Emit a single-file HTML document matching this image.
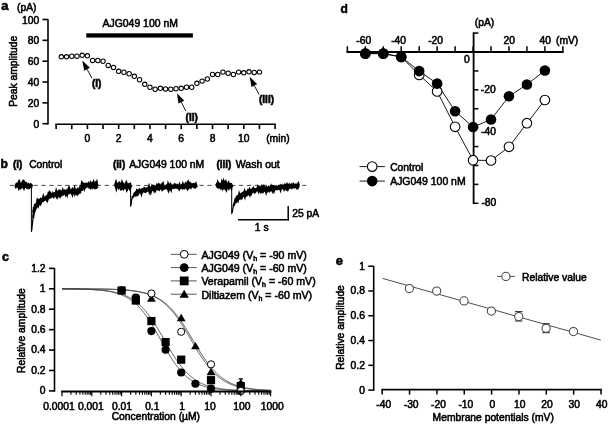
<!DOCTYPE html>
<html><head><meta charset="utf-8"><style>
html,body{margin:0;padding:0;background:#fff;width:608px;height:424px;overflow:hidden}
svg{display:block;will-change:transform}
text{font-family:"Liberation Sans", sans-serif;fill:#000;stroke:#000;stroke-width:0.55px}
</style></head><body>
<svg width="608" height="424" viewBox="0 0 608 424">
<text x="1.30" y="10.40" font-size="13" text-anchor="start" font-weight="bold" >a</text>
<text x="17.00" y="10.50" font-size="10.3" text-anchor="start" font-weight="normal" >(pA)</text>
<line x1="48.00" y1="19.30" x2="48.00" y2="124.50" stroke="#000" stroke-width="1.6" />
<line x1="42.50" y1="123.70" x2="48.00" y2="123.70" stroke="#000" stroke-width="1.6" />
<text x="39.20" y="127.80" font-size="10.3" text-anchor="end" font-weight="normal" >0</text>
<line x1="42.50" y1="102.86" x2="48.00" y2="102.86" stroke="#000" stroke-width="1.6" />
<text x="39.20" y="106.96" font-size="10.3" text-anchor="end" font-weight="normal" >20</text>
<line x1="42.50" y1="82.02" x2="48.00" y2="82.02" stroke="#000" stroke-width="1.6" />
<text x="39.20" y="86.12" font-size="10.3" text-anchor="end" font-weight="normal" >40</text>
<line x1="42.50" y1="61.18" x2="48.00" y2="61.18" stroke="#000" stroke-width="1.6" />
<text x="39.20" y="65.28" font-size="10.3" text-anchor="end" font-weight="normal" >60</text>
<line x1="42.50" y1="40.34" x2="48.00" y2="40.34" stroke="#000" stroke-width="1.6" />
<text x="39.20" y="44.44" font-size="10.3" text-anchor="end" font-weight="normal" >80</text>
<line x1="42.50" y1="19.50" x2="48.00" y2="19.50" stroke="#000" stroke-width="1.6" />
<text x="39.20" y="23.60" font-size="10.3" text-anchor="end" font-weight="normal" >100</text>
<line x1="55.32" y1="124.30" x2="275.88" y2="124.30" stroke="#000" stroke-width="1.6" />
<line x1="56.12" y1="124.30" x2="56.12" y2="129.10" stroke="#000" stroke-width="1.6" />
<line x1="71.76" y1="124.30" x2="71.76" y2="129.10" stroke="#000" stroke-width="1.6" />
<line x1="87.40" y1="124.30" x2="87.40" y2="129.10" stroke="#000" stroke-width="1.6" />
<line x1="103.04" y1="124.30" x2="103.04" y2="129.10" stroke="#000" stroke-width="1.6" />
<line x1="118.68" y1="124.30" x2="118.68" y2="129.10" stroke="#000" stroke-width="1.6" />
<line x1="134.32" y1="124.30" x2="134.32" y2="129.10" stroke="#000" stroke-width="1.6" />
<line x1="149.96" y1="124.30" x2="149.96" y2="129.10" stroke="#000" stroke-width="1.6" />
<line x1="165.60" y1="124.30" x2="165.60" y2="129.10" stroke="#000" stroke-width="1.6" />
<line x1="181.24" y1="124.30" x2="181.24" y2="129.10" stroke="#000" stroke-width="1.6" />
<line x1="196.88" y1="124.30" x2="196.88" y2="129.10" stroke="#000" stroke-width="1.6" />
<line x1="212.52" y1="124.30" x2="212.52" y2="129.10" stroke="#000" stroke-width="1.6" />
<line x1="228.16" y1="124.30" x2="228.16" y2="129.10" stroke="#000" stroke-width="1.6" />
<line x1="243.80" y1="124.30" x2="243.80" y2="129.10" stroke="#000" stroke-width="1.6" />
<line x1="259.44" y1="124.30" x2="259.44" y2="129.10" stroke="#000" stroke-width="1.6" />
<line x1="275.08" y1="124.30" x2="275.08" y2="129.10" stroke="#000" stroke-width="1.6" />
<text x="87.40" y="142.40" font-size="10.3" text-anchor="middle" font-weight="normal" >0</text>
<text x="118.68" y="142.40" font-size="10.3" text-anchor="middle" font-weight="normal" >2</text>
<text x="149.96" y="142.40" font-size="10.3" text-anchor="middle" font-weight="normal" >4</text>
<text x="181.24" y="142.40" font-size="10.3" text-anchor="middle" font-weight="normal" >6</text>
<text x="212.52" y="142.40" font-size="10.3" text-anchor="middle" font-weight="normal" >8</text>
<text x="243.80" y="142.40" font-size="10.3" text-anchor="middle" font-weight="normal" >10</text>
<text x="266.20" y="142.40" font-size="10.3" text-anchor="start" font-weight="normal" >(min)</text>
<text x="17.20" y="71.30" font-size="10.3" text-anchor="middle" font-weight="normal" transform="rotate(-90 17.2 71.3)">Peak amplitude</text>
<rect x="86.3" y="33.3" width="106.6" height="4.3" fill="#000"/>
<text x="102.50" y="27.30" font-size="10.45" text-anchor="start" font-weight="normal" >AJG049 100 nM</text>
<circle cx="61.33" cy="56.80" r="2.2" fill="#fff" stroke="#000" stroke-width="1.05"/>
<circle cx="66.55" cy="56.80" r="2.2" fill="#fff" stroke="#000" stroke-width="1.05"/>
<circle cx="71.76" cy="56.20" r="2.2" fill="#fff" stroke="#000" stroke-width="1.05"/>
<circle cx="76.97" cy="56.20" r="2.2" fill="#fff" stroke="#000" stroke-width="1.05"/>
<circle cx="82.19" cy="55.30" r="2.2" fill="#fff" stroke="#000" stroke-width="1.05"/>
<circle cx="87.40" cy="55.80" r="2.2" fill="#fff" stroke="#000" stroke-width="1.05"/>
<circle cx="92.61" cy="60.40" r="2.2" fill="#fff" stroke="#000" stroke-width="1.05"/>
<circle cx="97.83" cy="60.50" r="2.2" fill="#fff" stroke="#000" stroke-width="1.05"/>
<circle cx="103.04" cy="61.20" r="2.2" fill="#fff" stroke="#000" stroke-width="1.05"/>
<circle cx="108.25" cy="65.40" r="2.2" fill="#fff" stroke="#000" stroke-width="1.05"/>
<circle cx="113.47" cy="67.40" r="2.2" fill="#fff" stroke="#000" stroke-width="1.05"/>
<circle cx="118.68" cy="71.30" r="2.2" fill="#fff" stroke="#000" stroke-width="1.05"/>
<circle cx="123.89" cy="72.20" r="2.2" fill="#fff" stroke="#000" stroke-width="1.05"/>
<circle cx="129.11" cy="73.70" r="2.2" fill="#fff" stroke="#000" stroke-width="1.05"/>
<circle cx="134.32" cy="76.30" r="2.2" fill="#fff" stroke="#000" stroke-width="1.05"/>
<circle cx="139.53" cy="79.70" r="2.2" fill="#fff" stroke="#000" stroke-width="1.05"/>
<circle cx="144.75" cy="84.30" r="2.2" fill="#fff" stroke="#000" stroke-width="1.05"/>
<circle cx="149.96" cy="87.20" r="2.2" fill="#fff" stroke="#000" stroke-width="1.05"/>
<circle cx="155.17" cy="89.20" r="2.2" fill="#fff" stroke="#000" stroke-width="1.05"/>
<circle cx="160.39" cy="88.30" r="2.2" fill="#fff" stroke="#000" stroke-width="1.05"/>
<circle cx="165.60" cy="88.90" r="2.2" fill="#fff" stroke="#000" stroke-width="1.05"/>
<circle cx="170.81" cy="89.20" r="2.2" fill="#fff" stroke="#000" stroke-width="1.05"/>
<circle cx="176.03" cy="88.70" r="2.2" fill="#fff" stroke="#000" stroke-width="1.05"/>
<circle cx="181.24" cy="88.30" r="2.2" fill="#fff" stroke="#000" stroke-width="1.05"/>
<circle cx="186.45" cy="87.20" r="2.2" fill="#fff" stroke="#000" stroke-width="1.05"/>
<circle cx="191.67" cy="87.20" r="2.2" fill="#fff" stroke="#000" stroke-width="1.05"/>
<circle cx="196.88" cy="83.30" r="2.2" fill="#fff" stroke="#000" stroke-width="1.05"/>
<circle cx="202.09" cy="81.10" r="2.2" fill="#fff" stroke="#000" stroke-width="1.05"/>
<circle cx="207.31" cy="79.00" r="2.2" fill="#fff" stroke="#000" stroke-width="1.05"/>
<circle cx="212.52" cy="74.50" r="2.2" fill="#fff" stroke="#000" stroke-width="1.05"/>
<circle cx="217.73" cy="74.50" r="2.2" fill="#fff" stroke="#000" stroke-width="1.05"/>
<circle cx="222.95" cy="72.10" r="2.2" fill="#fff" stroke="#000" stroke-width="1.05"/>
<circle cx="228.16" cy="73.20" r="2.2" fill="#fff" stroke="#000" stroke-width="1.05"/>
<circle cx="233.37" cy="74.50" r="2.2" fill="#fff" stroke="#000" stroke-width="1.05"/>
<circle cx="238.59" cy="72.10" r="2.2" fill="#fff" stroke="#000" stroke-width="1.05"/>
<circle cx="243.80" cy="72.80" r="2.2" fill="#fff" stroke="#000" stroke-width="1.05"/>
<circle cx="249.01" cy="71.80" r="2.2" fill="#fff" stroke="#000" stroke-width="1.05"/>
<circle cx="254.23" cy="72.40" r="2.2" fill="#fff" stroke="#000" stroke-width="1.05"/>
<circle cx="259.44" cy="72.10" r="2.2" fill="#fff" stroke="#000" stroke-width="1.05"/>
<polygon points="82.30,60.40 84.25,70.72 89.88,67.67" fill="#000"/>
<line x1="87.06" y1="69.19" x2="92.00" y2="78.30" stroke="#000" stroke-width="0.9" />
<polygon points="176.90,93.20 178.51,103.58 184.23,100.71" fill="#000"/>
<line x1="181.37" y1="102.14" x2="185.80" y2="111.00" stroke="#000" stroke-width="0.9" />
<polygon points="249.70,76.70 251.49,87.05 257.17,84.08" fill="#000"/>
<line x1="254.33" y1="85.56" x2="259.10" y2="94.70" stroke="#000" stroke-width="0.9" />
<text x="92.00" y="87.30" font-size="10" text-anchor="start" font-weight="bold" >(I)</text>
<text x="185.60" y="120.80" font-size="10" text-anchor="start" font-weight="bold" >(II)</text>
<text x="259.00" y="103.40" font-size="10" text-anchor="start" font-weight="bold" >(III)</text>
<text x="0.50" y="168.00" font-size="12" text-anchor="start" font-weight="bold" >b</text>
<text x="13.00" y="168.30" font-size="10" text-anchor="start" font-weight="bold" >(i)</text>
<text x="29.20" y="168.30" font-size="10.3" text-anchor="start" font-weight="normal" >Control</text>
<text x="113.00" y="168.30" font-size="10" text-anchor="start" font-weight="bold" >(ii)</text>
<text x="129.20" y="168.30" font-size="10.4" text-anchor="start" font-weight="normal" >AJG049 100 nM</text>
<text x="216.40" y="168.30" font-size="10" text-anchor="start" font-weight="bold" >(iii)</text>
<text x="235.80" y="168.30" font-size="10.5" text-anchor="start" font-weight="normal" >Wash out</text>
<line x1="9.90" y1="185.40" x2="306.50" y2="185.40" stroke="#333" stroke-width="0.9" stroke-dasharray="4.2 3.7"/>
<polyline points="15.80,185.03 16.05,185.58 16.30,185.27 16.55,185.69 16.81,185.73 17.06,184.72 17.31,184.62 17.56,186.11 17.81,185.07 18.06,185.02 18.32,186.39 18.57,185.45 18.82,186.11 19.07,185.46 19.32,185.75 19.57,184.87 19.83,185.74 20.08,186.16 20.33,185.54 20.58,185.93 20.83,185.81 21.08,184.72 21.34,185.96 21.59,185.66 21.84,185.14 22.09,184.66 22.34,186.16 22.59,185.45 22.85,185.89 23.10,186.18 23.35,185.89 23.60,186.26 23.85,185.31 24.10,186.04 24.35,185.40 24.61,186.28 24.86,186.18 25.11,184.78 25.36,184.84 25.61,184.99 25.86,186.34 26.12,185.39 26.37,185.73 26.62,185.14 26.87,185.51 27.12,185.29 27.37,185.23 27.63,185.65 27.88,185.65 28.13,186.23 28.38,185.83 28.63,186.27 28.88,186.14 29.14,186.38 29.39,185.81 29.64,184.89 29.89,186.15 30.14,186.34 30.39,186.23 30.65,185.62 30.90,185.88 31.15,184.98 31.40,186.10" fill="none" stroke="#000" stroke-width="3.6" />
<line x1="31.40" y1="183.50" x2="31.40" y2="232.00" stroke="#000" stroke-width="1.0" />
<polyline points="31.60,231.00 31.71,229.98 31.86,228.59 32.04,226.95 32.24,225.12 32.46,223.23 32.68,221.34 32.89,219.57 33.10,218.00 33.29,216.58 33.45,215.18 33.62,213.83" fill="none" stroke="#000" stroke-width="1.3" />
<polyline points="33.10,218.00 33.29,216.58 33.45,215.18 33.62,213.83 33.79,212.53 33.98,211.28" fill="none" stroke="#000" stroke-width="2.2" />
<polyline points="33.79,212.64 33.98,210.94 34.20,209.41 34.47,209.58 34.80,208.78 35.19,206.44 35.62,206.78 36.09,205.44 36.34,204.70 36.59,204.61 36.86,205.07 37.13,204.93 37.42,203.32 37.70,203.94 37.99,202.74 38.29,203.54 38.59,202.62 38.90,203.21 39.22,203.07 39.54,202.02 39.87,202.52 40.21,201.13 40.56,200.48 40.92,201.04 41.28,199.86 41.64,199.85 42.02,199.93 42.39,200.00 42.65,199.10 42.90,198.76 43.15,199.91 43.41,198.87 43.67,199.74 43.93,199.48 44.18,198.50 44.44,198.49 44.70,198.43 44.96,198.49 45.22,198.27 45.48,198.08 45.74,198.04 46.00,198.43 46.26,197.61 46.52,197.36 46.78,197.71 47.05,196.81 47.31,196.80 47.58,197.77 47.85,196.93 48.12,196.86 48.40,195.89 48.67,196.43 48.95,196.59 49.24,195.58 49.52,196.43 49.81,196.35 50.10,195.33 50.39,196.13 50.70,195.76 51.00,196.00 51.30,195.36 51.62,195.82 51.93,195.76 52.25,194.50 52.58,194.45 52.91,195.33 53.24,195.67 53.49,194.45 53.74,194.70 54.00,194.83 54.25,194.31 54.51,194.30 54.77,194.14 55.03,194.15 55.29,194.43 55.56,193.88 55.82,193.92 56.08,194.47 56.35,193.20 56.61,193.99 56.88,194.18 57.14,193.43 57.41,193.21 57.67,194.07 57.93,193.09 58.20,192.94 58.46,193.26 58.72,193.62 58.98,192.60 59.24,192.88 59.50,192.83 59.76,193.57 60.02,192.88 60.28,193.48 60.53,192.32 60.79,192.53 61.05,192.97 61.31,193.28 61.57,192.53 61.83,192.11 62.09,191.89 62.35,192.49 62.61,191.89 62.87,192.82 63.13,192.82 63.39,191.72 63.65,191.81 63.91,192.61 64.17,192.30 64.43,192.51 64.69,191.73 64.95,191.34 65.21,191.55 65.47,192.31 65.73,191.43 65.99,191.51 66.25,191.58 66.51,191.55 66.77,191.49 67.02,192.28 67.28,191.02 67.54,190.74 67.80,192.21 68.06,192.08 68.32,192.23 68.59,191.32 68.85,192.11 69.12,192.06 69.39,190.91 69.66,191.73 69.92,191.86 70.20,191.57 70.47,191.33 70.74,190.95 71.01,191.02 71.28,190.83 71.55,190.57 71.82,191.39 72.09,190.90 72.35,191.73 72.61,190.50 72.88,191.87 73.14,191.53 73.40,191.89 73.65,191.84 73.90,191.84 74.16,191.32 74.48,190.40 74.80,191.56 75.11,190.63 75.41,190.82 75.70,191.38 76.00,191.14 76.28,190.94 76.56,191.75 76.84,191.20 77.11,190.74 77.38,190.56 77.65,191.51 77.91,190.86 78.17,191.31 78.43,190.59 78.80,190.29 79.16,190.78 79.50,191.18 79.83,190.10 80.12,191.05 80.42,191.21 80.91,190.95 81.30,190.92" fill="none" stroke="#000" stroke-width="3.3" />
<polyline points="81.60,184.61 81.85,185.73 82.10,186.15 82.36,184.69 82.61,185.09 82.86,185.08 83.11,185.55 83.37,185.36 83.62,185.45 83.87,186.00 84.12,184.60 84.38,184.70 84.63,184.83 84.88,184.82 85.13,184.72 85.39,186.35 85.64,186.14 85.89,184.76 86.14,185.50 86.40,185.17 86.65,185.17 86.90,185.23 87.15,185.76 87.40,185.66 87.66,185.25 87.91,184.94 88.16,185.19 88.41,184.82 88.67,185.60 88.92,185.89 89.17,185.28 89.42,184.74 89.68,184.92 89.93,185.27 90.18,185.69 90.43,186.01 90.69,185.28 90.94,186.04 91.19,185.72 91.44,185.38 91.70,185.27 91.95,185.49 92.20,185.87 92.45,185.36 92.70,185.85 92.96,185.43 93.21,185.04 93.46,185.56 93.71,185.85 93.97,184.73 94.22,185.36 94.47,185.37 94.72,186.18 94.98,186.29 95.23,185.27 95.48,186.22 95.73,186.02 95.99,185.07 96.24,185.44 96.49,184.82 96.74,186.06 97.00,185.79 97.25,186.20 97.50,186.03" fill="none" stroke="#000" stroke-width="3.6" />
<line x1="81.60" y1="191.00" x2="81.60" y2="185.50" stroke="#000" stroke-width="2" />
<polyline points="115.20,185.80 115.45,185.92 115.70,185.61 115.96,184.79 116.21,185.66 116.46,184.61 116.71,184.86 116.97,185.99 117.22,184.68 117.47,184.77 117.72,184.78 117.98,186.18 118.23,184.92 118.48,184.64 118.73,186.11 118.99,184.82 119.24,186.12 119.49,185.81 119.74,186.11 120.00,186.31 120.25,185.64 120.50,186.04 120.75,184.67 121.01,185.98 121.26,185.52 121.51,185.89 121.76,184.79 122.02,185.95 122.27,186.28 122.52,184.71 122.77,185.18 123.03,185.62 123.28,186.09 123.53,185.04 123.78,184.92 124.04,185.05 124.29,185.71 124.54,185.96 124.79,185.31 125.05,185.26 125.30,185.31 125.55,185.23 125.80,185.35 126.06,184.75 126.31,185.50 126.56,186.35 126.81,185.34 127.07,185.95 127.32,184.89 127.57,185.84 127.82,185.96 128.08,185.81 128.33,185.53 128.58,185.47 128.83,185.76 129.09,186.22 129.34,184.87 129.59,184.77 129.84,185.95 130.10,186.25 130.35,185.53 130.60,185.40" fill="none" stroke="#000" stroke-width="3.6" />
<line x1="130.60" y1="183.50" x2="130.60" y2="206.80" stroke="#000" stroke-width="1.0" />
<polyline points="131.00,205.50 131.06,204.91 131.11,204.11 131.17,203.15 131.26,202.10 131.38,201.00 131.57,199.92 131.84,198.90 132.20,198.00 132.65,197.19 133.18,196.41 133.77,195.65" fill="none" stroke="#000" stroke-width="1.3" />
<polyline points="132.20,198.00 132.65,197.19 133.18,196.41 133.77,195.65 134.43,194.92 135.16,194.23" fill="none" stroke="#000" stroke-width="2.2" />
<polyline points="134.43,195.27 134.79,194.07 135.16,193.85 135.42,193.53 135.68,193.93 135.94,193.28 136.23,192.94 136.51,193.47 136.79,193.69 137.09,192.45 137.40,192.92 137.70,192.26 138.01,192.80 138.32,192.20 138.63,191.52 138.95,191.29 139.26,190.83 139.58,191.42 139.90,191.13 140.23,190.66 140.56,190.83 140.83,190.67 141.09,191.31 141.35,190.21 141.62,191.47 141.91,190.57 142.20,190.68 142.49,190.38 142.78,190.89 143.04,190.80 143.30,190.32 143.56,190.13 143.82,190.45 144.08,190.60 144.37,189.81 144.66,190.28 144.96,190.58 145.25,189.73 145.54,189.29 145.82,189.24 146.09,189.96 146.37,189.84 146.65,190.24 146.92,190.02 147.20,188.99 147.47,188.86 147.75,188.92 148.02,188.76 148.29,189.54 148.56,189.74 148.84,189.76 149.11,188.69 149.38,189.62 149.65,188.70 149.92,188.84 150.19,189.29 150.46,188.22 150.73,188.19 151.00,189.34 151.26,188.43 151.52,188.50 151.78,188.83 152.04,188.95 152.30,187.84 152.56,188.33 152.82,188.46 153.08,188.51 153.34,188.03 153.60,188.60 153.88,189.16 154.15,188.22 154.43,188.44 154.70,187.73 154.97,187.94 155.25,188.54 155.52,187.62 155.79,188.83 156.07,188.83 156.32,187.50 156.57,188.83 156.83,187.89 157.08,188.50 157.33,188.45 157.59,187.68 157.84,188.27 158.09,188.20 158.35,188.42 158.60,187.53 158.85,188.28 159.11,188.59 159.36,188.10 159.62,187.86 159.87,187.16 160.12,187.74 160.38,187.49 160.63,188.05 160.88,187.96 161.14,187.75 161.41,187.11 161.69,187.83 161.97,187.78 162.24,187.03 162.52,188.14 162.80,187.74 163.07,186.86 163.35,188.13 163.62,186.84 163.89,187.12 164.15,187.72 164.42,187.50 164.68,187.41 164.94,187.53 165.21,187.20 165.47,186.95 165.74,186.71 166.00,186.51 166.26,187.52 166.52,187.57 166.77,187.21 167.03,187.50 167.29,186.87 167.55,186.70 167.81,186.87 168.07,187.63 168.32,186.28 168.59,187.01 168.85,186.58 169.11,187.40 169.37,186.72 169.63,186.66 169.89,186.76 170.15,186.96 170.42,187.32 170.68,186.63 170.94,187.40 171.20,186.21 171.46,186.45 171.73,186.16 171.99,186.17 172.25,187.22 172.51,187.13 172.78,186.24 173.04,186.24 173.30,186.59 173.56,187.10 173.82,187.20 174.08,187.08 174.34,186.82 174.60,186.09 174.86,186.48 175.12,186.14 175.37,186.66 175.63,186.72 175.88,186.12 176.14,186.18 176.39,187.02 176.65,185.81 176.90,187.03 177.16,187.16 177.41,187.25 177.67,186.33 177.94,186.59 178.22,186.62 178.50,186.69 178.78,187.23 179.05,186.75 179.33,186.12 179.61,187.00 179.88,186.39 180.15,186.56 180.41,186.75 180.68,185.58 180.94,186.80 181.21,186.61 181.47,186.32 181.74,186.36 182.00,186.25 182.29,185.81 182.57,186.33 182.86,185.52 183.14,186.25 183.43,186.47 183.71,186.13 184.00,186.31 184.28,186.92 184.55,186.79 184.83,185.56 185.11,186.60 185.38,186.31 185.66,185.38 185.94,185.85 186.21,185.63 186.49,185.36 186.76,186.08 187.04,186.69 187.31,185.70 187.59,186.56 187.87,186.26 188.13,185.34 188.40,186.48 188.67,186.05 188.94,186.56 189.21,186.20 189.48,186.22 189.74,185.57 190.00,186.29 190.25,186.47 190.51,186.34 190.76,185.64 191.02,186.14 191.27,185.68 191.53,185.06 191.80,184.94 192.07,184.97 192.35,185.15 192.62,185.06 192.89,185.58 193.17,185.89 193.46,185.61 193.75,185.40 194.04,185.74 194.33,185.17 194.62,185.40 194.93,185.85 195.23,185.26 195.54,184.88 195.85,186.01 196.17,185.70 196.48,185.11 196.80,185.09" fill="none" stroke="#000" stroke-width="3.3" />
<polyline points="216.60,185.55 216.85,185.67 217.10,185.00 217.35,184.60 217.61,184.98 217.86,186.01 218.11,184.86 218.36,185.43 218.61,184.95 218.86,184.98 219.12,184.91 219.37,185.33 219.62,184.90 219.87,184.65 220.12,184.80 220.38,184.90 220.63,185.48 220.88,184.71 221.13,184.64 221.38,185.41 221.63,185.33 221.88,185.87 222.14,184.69 222.39,185.33 222.64,185.31 222.89,184.65 223.14,186.34 223.39,184.99 223.65,184.77 223.90,185.45 224.15,184.90 224.40,185.72 224.65,185.22 224.91,184.82 225.16,184.69 225.41,185.91 225.66,185.10 225.91,186.02 226.16,185.44 226.41,186.28 226.67,185.14 226.92,185.05 227.17,185.08 227.42,186.07 227.67,185.73 227.92,185.22 228.18,184.77 228.43,185.83 228.68,186.34 228.93,185.67 229.18,184.61 229.44,184.65 229.69,184.76 229.94,184.91 230.19,184.67 230.44,184.70 230.69,185.78 230.94,186.22 231.20,184.96 231.45,186.35 231.70,185.46" fill="none" stroke="#000" stroke-width="3.6" />
<line x1="231.70" y1="183.50" x2="231.70" y2="214.20" stroke="#000" stroke-width="1.0" />
<polyline points="232.20,213.00 232.28,212.47 232.37,211.77 232.46,210.93 232.59,210.00 232.74,209.01 232.94,207.98 233.19,206.97 233.50,206.00 233.85,205.03 234.22,204.00 234.63,202.95" fill="none" stroke="#000" stroke-width="1.3" />
<polyline points="233.50,206.00 233.85,205.03 234.22,204.00 234.63,202.95 235.09,201.88 235.61,200.83" fill="none" stroke="#000" stroke-width="2.2" />
<polyline points="235.09,202.37 235.35,202.02 235.61,201.54 235.91,199.58 236.21,199.51 236.56,199.51 236.90,199.58 237.17,197.92 237.43,197.96 237.70,198.56 238.01,197.12 238.32,197.30 238.63,196.94 238.90,197.31 239.17,197.52 239.44,196.13 239.70,196.85 240.00,196.67 240.29,196.65 240.59,196.03 240.88,196.45 241.19,195.39 241.50,195.31 241.81,194.85 242.12,195.57 242.38,194.97 242.64,194.51 242.90,194.22 243.15,194.98 243.41,194.68 243.67,194.73 243.93,194.10 244.19,194.15 244.45,193.50 244.71,194.28 244.96,193.07 245.22,193.67 245.47,194.03 245.73,193.79 245.98,192.76 246.29,192.86 246.59,193.70 246.90,193.25 247.20,193.51 247.48,193.38 247.76,192.59 248.04,193.19 248.31,192.82 248.57,192.08 248.82,192.04 249.08,191.46 249.33,191.88 249.66,192.66 249.99,191.18 250.31,191.80 250.65,190.96 250.98,190.81 251.31,191.61 251.58,190.88 251.85,190.50 252.12,190.59 252.38,191.30 252.68,191.14 252.98,190.15 253.28,190.42 253.58,191.53 253.86,190.28 254.14,190.77 254.42,190.48 254.69,191.00 254.97,190.66 255.24,190.91 255.51,190.45 255.79,189.85 256.06,189.78 256.33,189.58 256.60,190.72 256.87,189.54 257.14,189.35 257.41,190.82 257.67,189.55 257.94,190.62 258.21,189.28 258.48,189.85 258.74,189.43 259.00,190.36 259.26,189.98 259.52,189.99 259.78,190.15 260.04,190.29 260.30,189.41 260.56,189.79 260.81,189.51 261.06,188.94 261.31,190.07 261.56,189.66 261.81,189.98 262.06,188.97 262.31,189.48 262.56,189.33 262.81,189.72 263.08,188.65 263.34,189.05 263.61,189.24 263.87,188.55 264.14,189.29 264.40,189.56 264.67,189.03 264.93,189.36 265.20,189.26 265.48,188.61 265.75,188.80 266.03,189.80 266.31,188.71 266.59,188.84 266.86,188.25 267.14,188.44 267.42,188.33 267.69,189.52 267.95,189.17 268.21,189.38 268.47,189.53 268.72,188.91 268.98,189.39 269.24,188.73 269.49,188.52 269.75,189.34 270.01,189.24 270.26,189.29 270.53,188.51 270.79,188.95 271.05,188.33 271.31,189.25 271.57,189.10 271.83,188.07 272.09,189.07 272.35,187.84 272.62,187.67 272.88,188.65 273.14,187.93 273.40,188.26 273.66,188.43 273.93,187.44 274.19,188.54 274.45,187.76 274.71,187.98 274.98,187.81 275.24,188.42 275.50,188.39 275.76,187.63 276.02,187.31 276.27,187.59 276.53,187.74 276.79,187.18 277.05,187.27 277.30,188.21 277.56,188.09 277.82,188.50 278.08,188.47 278.34,188.28 278.60,187.44 278.86,187.07 279.13,187.29 279.39,187.50 279.65,187.57 279.92,187.56 280.18,187.24 280.45,188.00 280.71,187.06 280.97,187.32 281.24,187.97 281.50,187.81 281.76,186.96 282.01,186.85 282.27,187.72 282.53,186.42 282.78,186.58 283.04,187.19 283.30,187.17 283.55,186.55 283.81,186.34 284.07,186.55 284.32,187.43 284.58,186.91 284.84,187.71 285.09,187.37 285.35,187.65 285.61,186.11 285.86,186.32 286.12,186.02 286.38,186.66 286.64,186.48 286.89,185.99 287.15,186.75 287.41,186.00 287.67,186.32 287.92,186.19 288.18,187.05 288.45,186.40 288.71,186.12 288.98,185.74 289.25,186.33 289.51,186.62 289.78,186.66 290.05,187.01 290.31,186.82 290.58,185.89 290.85,185.68 291.11,186.65 291.38,186.67 291.64,186.19 291.91,186.67 292.17,186.20 292.43,185.73 292.69,185.52 292.96,185.25 293.22,186.22 293.48,186.60 293.75,186.59 294.01,185.85 294.27,186.14 294.54,186.53 294.81,186.32 295.08,185.95 295.35,185.62 295.62,185.75 295.89,185.17 296.16,185.16 296.43,185.93 296.70,186.39 296.96,185.65 297.21,185.40 297.47,185.28 297.73,185.41 297.99,185.94 298.24,185.35 298.50,186.13" fill="none" stroke="#000" stroke-width="3.3" />
<line x1="288.20" y1="206.00" x2="288.20" y2="220.40" stroke="#000" stroke-width="1.5" />
<line x1="238.10" y1="219.70" x2="288.90" y2="219.70" stroke="#000" stroke-width="1.5" />
<text x="292.20" y="217.00" font-size="10.3" text-anchor="start" font-weight="normal" >25 pA</text>
<text x="254.80" y="231.40" font-size="10.3" text-anchor="start" font-weight="normal" >1 s</text>
<text x="2.00" y="260.60" font-size="12.5" text-anchor="start" font-weight="bold" >c</text>
<line x1="54.50" y1="268.18" x2="54.50" y2="391.70" stroke="#000" stroke-width="1.6" />
<line x1="49.00" y1="390.90" x2="54.50" y2="390.90" stroke="#000" stroke-width="1.6" />
<text x="45.60" y="394.30" font-size="10.3" text-anchor="end" font-weight="normal" >0</text>
<line x1="49.00" y1="370.48" x2="54.50" y2="370.48" stroke="#000" stroke-width="1.6" />
<text x="45.60" y="373.88" font-size="10.3" text-anchor="end" font-weight="normal" >0.2</text>
<line x1="49.00" y1="350.06" x2="54.50" y2="350.06" stroke="#000" stroke-width="1.6" />
<text x="45.60" y="353.46" font-size="10.3" text-anchor="end" font-weight="normal" >0.4</text>
<line x1="49.00" y1="329.64" x2="54.50" y2="329.64" stroke="#000" stroke-width="1.6" />
<text x="45.60" y="333.04" font-size="10.3" text-anchor="end" font-weight="normal" >0.6</text>
<line x1="49.00" y1="309.22" x2="54.50" y2="309.22" stroke="#000" stroke-width="1.6" />
<text x="45.60" y="312.62" font-size="10.3" text-anchor="end" font-weight="normal" >0.8</text>
<line x1="49.00" y1="288.80" x2="54.50" y2="288.80" stroke="#000" stroke-width="1.6" />
<text x="45.60" y="292.20" font-size="10.3" text-anchor="end" font-weight="normal" >1</text>
<line x1="49.00" y1="268.38" x2="54.50" y2="268.38" stroke="#000" stroke-width="1.6" />
<text x="45.60" y="271.78" font-size="10.3" text-anchor="end" font-weight="normal" >1.2</text>
<text x="24.70" y="330.60" font-size="10.3" text-anchor="middle" font-weight="normal" transform="rotate(-90 24.7 330.6)">Relative amplitude</text>
<text x="59.00" y="410.00" font-size="10.3" text-anchor="middle" font-weight="normal" >0.0001</text>
<text x="90.90" y="410.00" font-size="10.3" text-anchor="middle" font-weight="normal" >0.001</text>
<text x="122.00" y="410.00" font-size="10.3" text-anchor="middle" font-weight="normal" >0.01</text>
<text x="152.30" y="410.00" font-size="10.3" text-anchor="middle" font-weight="normal" >0.1</text>
<text x="182.00" y="410.00" font-size="10.3" text-anchor="middle" font-weight="normal" >1</text>
<text x="210.00" y="410.00" font-size="10.3" text-anchor="middle" font-weight="normal" >10</text>
<text x="241.80" y="410.00" font-size="10.3" text-anchor="middle" font-weight="normal" >100</text>
<text x="272.30" y="410.00" font-size="10.3" text-anchor="middle" font-weight="normal" >1000</text>
<text x="111.70" y="419.50" font-size="10.3" text-anchor="start" font-weight="normal" >Concentration (µM)</text>
<polyline points="62.00,288.82 62.50,288.82 62.99,288.82 63.49,288.82 63.99,288.82 64.48,288.82 64.98,288.82 65.48,288.82 65.97,288.82 66.47,288.83 66.97,288.83 67.46,288.83 67.96,288.83 68.46,288.83 68.95,288.83 69.45,288.83 69.95,288.83 70.44,288.83 70.94,288.83 71.44,288.84 71.93,288.84 72.43,288.84 72.93,288.84 73.42,288.84 73.92,288.84 74.42,288.84 74.91,288.84 75.41,288.85 75.91,288.85 76.40,288.85 76.90,288.85 77.40,288.85 77.89,288.85 78.39,288.86 78.89,288.86 79.38,288.86 79.88,288.86 80.38,288.86 80.87,288.87 81.37,288.87 81.87,288.87 82.36,288.87 82.86,288.87 83.36,288.88 83.85,288.88 84.35,288.88 84.85,288.89 85.34,288.89 85.84,288.89 86.34,288.89 86.83,288.90 87.33,288.90 87.83,288.90 88.32,288.91 88.82,288.91 89.32,288.91 89.81,288.92 90.31,288.92 90.81,288.93 91.30,288.93 91.80,288.93 92.30,288.94 92.79,288.94 93.29,288.95 93.79,288.95 94.28,288.96 94.78,288.96 95.28,288.97 95.77,288.97 96.27,288.98 96.77,288.99 97.26,288.99 97.76,289.00 98.26,289.00 98.75,289.01 99.25,289.02 99.75,289.03 100.24,289.03 100.74,289.04 101.24,289.05 101.73,289.06 102.23,289.07 102.73,289.07 103.22,289.08 103.72,289.09 104.22,289.10 104.71,289.11 105.21,289.12 105.71,289.13 106.20,289.14 106.70,289.16 107.20,289.17 107.69,289.18 108.19,289.19 108.69,289.21 109.18,289.22 109.68,289.23 110.18,289.25 110.67,289.26 111.17,289.28 111.67,289.29 112.16,289.31 112.66,289.33 113.16,289.34 113.65,289.36 114.15,289.38 114.65,289.40 115.14,289.42 115.64,289.44 116.14,289.46 116.63,289.48 117.13,289.50 117.63,289.53 118.12,289.55 118.62,289.58 119.12,289.60 119.61,289.63 120.11,289.66 120.61,289.68 121.10,289.71 121.60,289.74 122.10,289.77 122.59,289.81 123.09,289.84 123.59,289.87 124.08,289.91 124.58,289.94 125.08,289.98 125.57,290.02 126.07,290.06 126.57,290.10 127.06,290.14 127.56,290.19 128.06,290.23 128.55,290.28 129.05,290.33 129.55,290.38 130.04,290.43 130.54,290.48 131.04,290.54 131.53,290.59 132.03,290.65 132.53,290.71 133.02,290.78 133.52,290.84 134.02,290.91 134.51,290.97 135.01,291.04 135.51,291.12 136.00,291.19 136.50,291.27 137.00,291.35 137.49,291.43 137.99,291.52 138.49,291.60 138.98,291.69 139.48,291.79 139.98,291.88 140.47,291.98 140.97,292.08 141.47,292.19 141.96,292.30 142.46,292.41 142.96,292.53 143.45,292.65 143.95,292.77 144.45,292.89 144.94,293.02 145.44,293.16 145.94,293.30 146.43,293.44 146.93,293.59 147.43,293.74 147.92,293.89 148.42,294.05 148.92,294.22 149.41,294.39 149.91,294.56 150.41,294.74 150.90,294.93 151.40,295.12 151.90,295.31 152.39,295.51 152.89,295.72 153.39,295.94 153.88,296.16 154.38,296.38 154.88,296.61 155.37,296.85 155.87,297.10 156.37,297.35 156.86,297.61 157.36,297.87 157.86,298.15 158.35,298.43 158.85,298.72 159.35,299.01 159.84,299.32 160.34,299.63 160.84,299.95 161.33,300.28 161.83,300.61 162.33,300.96 162.82,301.31 163.32,301.67 163.82,302.05 164.31,302.43 164.81,302.82 165.31,303.21 165.80,303.62 166.30,304.04 166.80,304.47 167.29,304.91 167.79,305.35 168.29,305.81 168.78,306.28 169.28,306.76 169.78,307.24 170.27,307.74 170.77,308.25 171.27,308.77 171.76,309.30 172.26,309.84 172.76,310.39 173.25,310.95 173.75,311.52 174.25,312.10 174.74,312.69 175.24,313.30 175.74,313.91 176.23,314.53 176.73,315.16 177.23,315.81 177.72,316.46 178.22,317.12 178.72,317.79 179.21,318.48 179.71,319.17 180.21,319.87 180.70,320.58 181.20,321.30 181.70,322.02 182.19,322.76 182.69,323.50 183.19,324.25 183.68,325.01 184.18,325.78 184.68,326.55 185.17,327.33 185.67,328.12 186.17,328.91 186.66,329.70 187.16,330.51 187.66,331.31 188.15,332.12 188.65,332.94 189.15,333.76 189.64,334.58 190.14,335.41 190.64,336.23 191.13,337.06 191.63,337.89 192.13,338.73 192.62,339.56 193.12,340.39 193.62,341.22 194.11,342.06 194.61,342.89 195.11,343.71 195.60,344.54 196.10,345.37 196.60,346.19 197.09,347.00 197.59,347.82 198.09,348.63 198.58,349.44 199.08,350.24 199.58,351.03 200.07,351.82 200.57,352.60 201.07,353.38 201.56,354.15 202.06,354.92 202.56,355.67 203.05,356.42 203.55,357.16 204.05,357.90 204.54,358.62 205.04,359.34 205.54,360.04 206.03,360.74 206.53,361.43 207.03,362.11 207.52,362.78 208.02,363.44 208.52,364.09 209.01,364.73 209.51,365.36 210.01,365.98 210.50,366.59 211.00,367.18 211.50,367.77 211.99,368.35 212.49,368.92 212.99,369.48 213.48,370.02 213.98,370.56 214.48,371.09 214.97,371.60 215.47,372.11 215.97,372.60 216.46,373.09 216.96,373.56 217.46,374.03 217.95,374.48 218.45,374.93 218.95,375.36 219.44,375.79 219.94,376.20 220.44,376.61 220.93,377.00 221.43,377.39 221.93,377.77 222.42,378.14 222.92,378.50 223.42,378.85 223.91,379.19 224.41,379.52 224.91,379.85 225.40,380.17 225.90,380.48 226.40,380.78 226.89,381.07 227.39,381.36 227.89,381.64 228.38,381.91 228.88,382.17 229.38,382.43 229.87,382.68 230.37,382.92 230.87,383.16 231.36,383.39 231.86,383.61 232.36,383.83 232.85,384.04 233.35,384.25 233.85,384.45 234.34,384.64 234.84,384.83 235.34,385.01 235.83,385.19 236.33,385.37 236.83,385.53 237.32,385.70 237.82,385.86 238.32,386.01 238.81,386.16 239.31,386.30 239.81,386.45 240.30,386.58 240.80,386.72 241.30,386.84 241.79,386.97 242.29,387.09 242.79,387.21 243.28,387.32 243.78,387.43 244.28,387.54 244.77,387.65 245.27,387.75 245.77,387.85 246.26,387.94 246.76,388.03 247.26,388.12 247.75,388.21 248.25,388.29 248.75,388.37 249.24,388.45 249.74,388.53 250.24,388.61 250.73,388.68 251.23,388.75 251.73,388.81 252.22,388.88 252.72,388.94 253.22,389.01 253.71,389.07 254.21,389.12 254.71,389.18 255.20,389.23 255.70,389.29 256.20,389.34 256.69,389.39 257.19,389.43 257.69,389.48 258.18,389.53 258.68,389.57 259.18,389.61 259.67,389.65 260.17,389.69 260.67,389.73 261.16,389.77 261.66,389.80 262.16,389.84 262.65,389.87 263.15,389.90 263.65,389.94 264.14,389.97 264.64,390.00 265.14,390.03 265.63,390.05 266.13,390.08 266.63,390.11 267.12,390.13 267.62,390.16 268.12,390.18 268.61,390.20 269.11,390.22 269.61,390.25 270.10,390.27 270.60,390.29" fill="none" stroke="#3a3a3a" stroke-width="0.85" />
<polyline points="62.00,288.82 62.50,288.82 62.99,288.82 63.49,288.82 63.99,288.82 64.48,288.82 64.98,288.82 65.48,288.82 65.97,288.82 66.47,288.82 66.97,288.82 67.46,288.83 67.96,288.83 68.46,288.83 68.95,288.83 69.45,288.83 69.95,288.83 70.44,288.83 70.94,288.83 71.44,288.83 71.93,288.83 72.43,288.84 72.93,288.84 73.42,288.84 73.92,288.84 74.42,288.84 74.91,288.84 75.41,288.84 75.91,288.84 76.40,288.85 76.90,288.85 77.40,288.85 77.89,288.85 78.39,288.85 78.89,288.85 79.38,288.86 79.88,288.86 80.38,288.86 80.87,288.86 81.37,288.86 81.87,288.87 82.36,288.87 82.86,288.87 83.36,288.87 83.85,288.88 84.35,288.88 84.85,288.88 85.34,288.88 85.84,288.89 86.34,288.89 86.83,288.89 87.33,288.90 87.83,288.90 88.32,288.90 88.82,288.91 89.32,288.91 89.81,288.91 90.31,288.92 90.81,288.92 91.30,288.92 91.80,288.93 92.30,288.93 92.79,288.94 93.29,288.94 93.79,288.95 94.28,288.95 94.78,288.96 95.28,288.96 95.77,288.97 96.27,288.97 96.77,288.98 97.26,288.99 97.76,288.99 98.26,289.00 98.75,289.01 99.25,289.01 99.75,289.02 100.24,289.03 100.74,289.03 101.24,289.04 101.73,289.05 102.23,289.06 102.73,289.07 103.22,289.08 103.72,289.09 104.22,289.10 104.71,289.11 105.21,289.12 105.71,289.13 106.20,289.14 106.70,289.15 107.20,289.16 107.69,289.17 108.19,289.19 108.69,289.20 109.18,289.21 109.68,289.23 110.18,289.24 110.67,289.26 111.17,289.27 111.67,289.29 112.16,289.30 112.66,289.32 113.16,289.34 113.65,289.36 114.15,289.38 114.65,289.39 115.14,289.41 115.64,289.44 116.14,289.46 116.63,289.48 117.13,289.50 117.63,289.53 118.12,289.55 118.62,289.58 119.12,289.60 119.61,289.63 120.11,289.66 120.61,289.69 121.10,289.71 121.60,289.75 122.10,289.78 122.59,289.81 123.09,289.84 123.59,289.88 124.08,289.92 124.58,289.95 125.08,289.99 125.57,290.03 126.07,290.07 126.57,290.12 127.06,290.16 127.56,290.21 128.06,290.25 128.55,290.30 129.05,290.35 129.55,290.40 130.04,290.46 130.54,290.51 131.04,290.57 131.53,290.63 132.03,290.69 132.53,290.75 133.02,290.82 133.52,290.88 134.02,290.95 134.51,291.02 135.01,291.10 135.51,291.17 136.00,291.25 136.50,291.33 137.00,291.42 137.49,291.50 137.99,291.59 138.49,291.69 138.98,291.78 139.48,291.88 139.98,291.98 140.47,292.09 140.97,292.19 141.47,292.30 141.96,292.42 142.46,292.54 142.96,292.66 143.45,292.79 143.95,292.92 144.45,293.05 144.94,293.19 145.44,293.33 145.94,293.48 146.43,293.63 146.93,293.78 147.43,293.94 147.92,294.11 148.42,294.28 148.92,294.46 149.41,294.64 149.91,294.82 150.41,295.02 150.90,295.21 151.40,295.42 151.90,295.63 152.39,295.84 152.89,296.07 153.39,296.29 153.88,296.53 154.38,296.77 154.88,297.02 155.37,297.28 155.87,297.54 156.37,297.81 156.86,298.09 157.36,298.37 157.86,298.67 158.35,298.97 158.85,299.28 159.35,299.60 159.84,299.92 160.34,300.26 160.84,300.60 161.33,300.96 161.83,301.32 162.33,301.69 162.82,302.07 163.32,302.46 163.82,302.86 164.31,303.27 164.81,303.69 165.31,304.12 165.80,304.56 166.30,305.01 166.80,305.47 167.29,305.94 167.79,306.42 168.29,306.91 168.78,307.42 169.28,307.93 169.78,308.45 170.27,308.99 170.77,309.54 171.27,310.09 171.76,310.66 172.26,311.24 172.76,311.83 173.25,312.43 173.75,313.04 174.25,313.67 174.74,314.30 175.24,314.94 175.74,315.60 176.23,316.26 176.73,316.94 177.23,317.62 177.72,318.32 178.22,319.02 178.72,319.74 179.21,320.46 179.71,321.20 180.21,321.94 180.70,322.69 181.20,323.45 181.70,324.22 182.19,325.00 182.69,325.78 183.19,326.57 183.68,327.37 184.18,328.17 184.68,328.99 185.17,329.80 185.67,330.62 186.17,331.45 186.66,332.28 187.16,333.12 187.66,333.96 188.15,334.80 188.65,335.64 189.15,336.49 189.64,337.34 190.14,338.19 190.64,339.04 191.13,339.90 191.63,340.75 192.13,341.60 192.62,342.45 193.12,343.30 193.62,344.15 194.11,344.99 194.61,345.83 195.11,346.67 195.60,347.51 196.10,348.34 196.60,349.16 197.09,349.99 197.59,350.80 198.09,351.61 198.58,352.42 199.08,353.21 199.58,354.00 200.07,354.79 200.57,355.56 201.07,356.33 201.56,357.09 202.06,357.84 202.56,358.58 203.05,359.31 203.55,360.04 204.05,360.75 204.54,361.46 205.04,362.15 205.54,362.84 206.03,363.51 206.53,364.17 207.03,364.83 207.52,365.47 208.02,366.10 208.52,366.72 209.01,367.33 209.51,367.93 210.01,368.52 210.50,369.10 211.00,369.67 211.50,370.22 211.99,370.77 212.49,371.30 212.99,371.83 213.48,372.34 213.98,372.84 214.48,373.33 214.97,373.81 215.47,374.28 215.97,374.74 216.46,375.19 216.96,375.63 217.46,376.06 217.95,376.48 218.45,376.88 218.95,377.28 219.44,377.67 219.94,378.05 220.44,378.42 220.93,378.78 221.43,379.14 221.93,379.48 222.42,379.81 222.92,380.14 223.42,380.46 223.91,380.76 224.41,381.07 224.91,381.36 225.40,381.64 225.90,381.92 226.40,382.19 226.89,382.45 227.39,382.71 227.89,382.96 228.38,383.20 228.88,383.43 229.38,383.66 229.87,383.88 230.37,384.10 230.87,384.30 231.36,384.51 231.86,384.70 232.36,384.90 232.85,385.08 233.35,385.26 233.85,385.44 234.34,385.61 234.84,385.77 235.34,385.93 235.83,386.09 236.33,386.24 236.83,386.39 237.32,386.53 237.82,386.67 238.32,386.80 238.81,386.93 239.31,387.05 239.81,387.18 240.30,387.29 240.80,387.41 241.30,387.52 241.79,387.63 242.29,387.73 242.79,387.83 243.28,387.93 243.78,388.02 244.28,388.12 244.77,388.20 245.27,388.29 245.77,388.37 246.26,388.46 246.76,388.53 247.26,388.61 247.75,388.68 248.25,388.75 248.75,388.82 249.24,388.89 249.74,388.96 250.24,389.02 250.73,389.08 251.23,389.14 251.73,389.19 252.22,389.25 252.72,389.30 253.22,389.35 253.71,389.40 254.21,389.45 254.71,389.50 255.20,389.54 255.70,389.59 256.20,389.63 256.69,389.67 257.19,389.71 257.69,389.75 258.18,389.79 258.68,389.82 259.18,389.86 259.67,389.89 260.17,389.93 260.67,389.96 261.16,389.99 261.66,390.02 262.16,390.05 262.65,390.07 263.15,390.10 263.65,390.13 264.14,390.15 264.64,390.18 265.14,390.20 265.63,390.22 266.13,390.25 266.63,390.27 267.12,390.29 267.62,390.31 268.12,390.33 268.61,390.35 269.11,390.36 269.61,390.38 270.10,390.40 270.60,390.41" fill="none" stroke="#3a3a3a" stroke-width="0.85" />
<polyline points="62.00,288.90 62.50,288.90 62.99,288.91 63.49,288.91 63.99,288.91 64.48,288.92 64.98,288.92 65.48,288.93 65.97,288.93 66.47,288.94 66.97,288.94 67.46,288.95 67.96,288.95 68.46,288.96 68.95,288.96 69.45,288.97 69.95,288.97 70.44,288.98 70.94,288.99 71.44,288.99 71.93,289.00 72.43,289.01 72.93,289.01 73.42,289.02 73.92,289.03 74.42,289.04 74.91,289.04 75.41,289.05 75.91,289.06 76.40,289.07 76.90,289.08 77.40,289.09 77.89,289.10 78.39,289.11 78.89,289.12 79.38,289.13 79.88,289.15 80.38,289.16 80.87,289.17 81.37,289.18 81.87,289.20 82.36,289.21 82.86,289.23 83.36,289.24 83.85,289.26 84.35,289.27 84.85,289.29 85.34,289.31 85.84,289.33 86.34,289.34 86.83,289.36 87.33,289.38 87.83,289.40 88.32,289.43 88.82,289.45 89.32,289.47 89.81,289.49 90.31,289.52 90.81,289.54 91.30,289.57 91.80,289.60 92.30,289.63 92.79,289.66 93.29,289.69 93.79,289.72 94.28,289.75 94.78,289.78 95.28,289.82 95.77,289.85 96.27,289.89 96.77,289.93 97.26,289.97 97.76,290.01 98.26,290.05 98.75,290.09 99.25,290.14 99.75,290.19 100.24,290.24 100.74,290.29 101.24,290.34 101.73,290.39 102.23,290.45 102.73,290.50 103.22,290.56 103.72,290.63 104.22,290.69 104.71,290.76 105.21,290.82 105.71,290.89 106.20,290.97 106.70,291.04 107.20,291.12 107.69,291.20 108.19,291.28 108.69,291.37 109.18,291.46 109.68,291.55 110.18,291.65 110.67,291.74 111.17,291.85 111.67,291.95 112.16,292.06 112.66,292.17 113.16,292.29 113.65,292.41 114.15,292.53 114.65,292.66 115.14,292.79 115.64,292.92 116.14,293.07 116.63,293.21 117.13,293.36 117.63,293.51 118.12,293.67 118.62,293.84 119.12,294.01 119.61,294.18 120.11,294.37 120.61,294.55 121.10,294.74 121.60,294.94 122.10,295.15 122.59,295.36 123.09,295.58 123.59,295.80 124.08,296.03 124.58,296.27 125.08,296.52 125.57,296.77 126.07,297.03 126.57,297.30 127.06,297.57 127.56,297.86 128.06,298.15 128.55,298.45 129.05,298.76 129.55,299.08 130.04,299.41 130.54,299.74 131.04,300.09 131.53,300.44 132.03,300.81 132.53,301.18 133.02,301.57 133.52,301.96 134.02,302.37 134.51,302.79 135.01,303.21 135.51,303.65 136.00,304.10 136.50,304.56 137.00,305.03 137.49,305.51 137.99,306.01 138.49,306.51 138.98,307.03 139.48,307.56 139.98,308.10 140.47,308.65 140.97,309.21 141.47,309.79 141.96,310.38 142.46,310.98 142.96,311.59 143.45,312.22 143.95,312.85 144.45,313.50 144.94,314.16 145.44,314.83 145.94,315.52 146.43,316.21 146.93,316.92 147.43,317.63 147.92,318.36 148.42,319.10 148.92,319.85 149.41,320.61 149.91,321.38 150.41,322.16 150.90,322.95 151.40,323.74 151.90,324.55 152.39,325.37 152.89,326.19 153.39,327.02 153.88,327.86 154.38,328.71 154.88,329.56 155.37,330.42 155.87,331.28 156.37,332.15 156.86,333.02 157.36,333.90 157.86,334.78 158.35,335.67 158.85,336.55 159.35,337.44 159.84,338.33 160.34,339.22 160.84,340.11 161.33,341.00 161.83,341.89 162.33,342.78 162.82,343.67 163.32,344.56 163.82,345.44 164.31,346.32 164.81,347.19 165.31,348.06 165.80,348.93 166.30,349.79 166.80,350.64 167.29,351.49 167.79,352.33 168.29,353.17 168.78,354.00 169.28,354.81 169.78,355.62 170.27,356.43 170.77,357.22 171.27,358.00 171.76,358.78 172.26,359.54 172.76,360.29 173.25,361.04 173.75,361.77 174.25,362.49 174.74,363.20 175.24,363.90 175.74,364.59 176.23,365.27 176.73,365.93 177.23,366.58 177.72,367.22 178.22,367.85 178.72,368.47 179.21,369.08 179.71,369.67 180.21,370.25 180.70,370.82 181.20,371.38 181.70,371.92 182.19,372.46 182.69,372.98 183.19,373.49 183.68,373.99 184.18,374.47 184.68,374.95 185.17,375.41 185.67,375.87 186.17,376.31 186.66,376.74 187.16,377.16 187.66,377.57 188.15,377.97 188.65,378.36 189.15,378.74 189.64,379.11 190.14,379.47 190.64,379.82 191.13,380.16 191.63,380.49 192.13,380.81 192.62,381.12 193.12,381.43 193.62,381.72 194.11,382.01 194.61,382.29 195.11,382.56 195.60,382.83 196.10,383.08 196.60,383.33 197.09,383.57 197.59,383.81 198.09,384.03 198.58,384.25 199.08,384.47 199.58,384.67 200.07,384.87 200.57,385.07 201.07,385.26 201.56,385.44 202.06,385.62 202.56,385.79 203.05,385.96 203.55,386.12 204.05,386.28 204.54,386.43 205.04,386.58 205.54,386.72 206.03,386.86 206.53,386.99 207.03,387.12 207.52,387.24 208.02,387.36 208.52,387.48 209.01,387.60 209.51,387.71 210.01,387.81 210.50,387.91 211.00,388.01 211.50,388.11 211.99,388.20 212.49,388.29 212.99,388.38 213.48,388.47 213.98,388.55 214.48,388.63 214.97,388.70 215.47,388.78 215.97,388.85 216.46,388.92 216.96,388.98 217.46,389.05 217.95,389.11 218.45,389.17 218.95,389.23 219.44,389.29 219.94,389.34 220.44,389.39 220.93,389.44 221.43,389.49 221.93,389.54 222.42,389.59 222.92,389.63 223.42,389.67 223.91,389.72 224.41,389.76 224.91,389.80 225.40,389.83 225.90,389.87 226.40,389.90 226.89,389.94 227.39,389.97 227.89,390.00 228.38,390.03 228.88,390.06 229.38,390.09 229.87,390.12 230.37,390.14 230.87,390.17 231.36,390.20 231.86,390.22 232.36,390.24 232.85,390.27 233.35,390.29 233.85,390.31 234.34,390.33 234.84,390.35 235.34,390.37 235.83,390.38 236.33,390.40 236.83,390.42 237.32,390.44 237.82,390.45 238.32,390.47 238.81,390.48 239.31,390.50 239.81,390.51 240.30,390.52 240.80,390.54 241.30,390.55 241.79,390.56 242.29,390.57 242.79,390.58 243.28,390.59 243.78,390.60 244.28,390.61 244.77,390.62 245.27,390.63 245.77,390.64 246.26,390.65 246.76,390.66 247.26,390.67 247.75,390.68 248.25,390.68 248.75,390.69 249.24,390.70 249.74,390.71 250.24,390.71 250.73,390.72 251.23,390.72 251.73,390.73 252.22,390.74 252.72,390.74 253.22,390.75 253.71,390.75 254.21,390.76 254.71,390.76 255.20,390.77 255.70,390.77 256.20,390.78 256.69,390.78 257.19,390.78 257.69,390.79 258.18,390.79 258.68,390.80 259.18,390.80 259.67,390.80 260.17,390.81 260.67,390.81 261.16,390.81 261.66,390.82 262.16,390.82 262.65,390.82 263.15,390.82 263.65,390.83 264.14,390.83 264.64,390.83 265.14,390.83 265.63,390.84 266.13,390.84 266.63,390.84 267.12,390.84 267.62,390.84 268.12,390.85 268.61,390.85 269.11,390.85 269.61,390.85 270.10,390.85 270.60,390.86" fill="none" stroke="#3a3a3a" stroke-width="0.85" />
<polyline points="62.00,288.90 62.50,288.90 62.99,288.90 63.49,288.91 63.99,288.91 64.48,288.92 64.98,288.92 65.48,288.92 65.97,288.93 66.47,288.93 66.97,288.94 67.46,288.94 67.96,288.95 68.46,288.95 68.95,288.96 69.45,288.96 69.95,288.97 70.44,288.97 70.94,288.98 71.44,288.98 71.93,288.99 72.43,289.00 72.93,289.00 73.42,289.01 73.92,289.02 74.42,289.03 74.91,289.03 75.41,289.04 75.91,289.05 76.40,289.06 76.90,289.07 77.40,289.08 77.89,289.09 78.39,289.10 78.89,289.11 79.38,289.12 79.88,289.13 80.38,289.14 80.87,289.15 81.37,289.16 81.87,289.17 82.36,289.19 82.86,289.20 83.36,289.21 83.85,289.23 84.35,289.24 84.85,289.26 85.34,289.27 85.84,289.29 86.34,289.31 86.83,289.32 87.33,289.34 87.83,289.36 88.32,289.38 88.82,289.40 89.32,289.42 89.81,289.44 90.31,289.46 90.81,289.49 91.30,289.51 91.80,289.53 92.30,289.56 92.79,289.58 93.29,289.61 93.79,289.64 94.28,289.67 94.78,289.70 95.28,289.73 95.77,289.76 96.27,289.79 96.77,289.82 97.26,289.86 97.76,289.89 98.26,289.93 98.75,289.97 99.25,290.01 99.75,290.05 100.24,290.09 100.74,290.14 101.24,290.18 101.73,290.23 102.23,290.28 102.73,290.33 103.22,290.38 103.72,290.43 104.22,290.49 104.71,290.55 105.21,290.60 105.71,290.66 106.20,290.73 106.70,290.79 107.20,290.86 107.69,290.93 108.19,291.00 108.69,291.07 109.18,291.15 109.68,291.23 110.18,291.31 110.67,291.40 111.17,291.48 111.67,291.57 112.16,291.66 112.66,291.76 113.16,291.86 113.65,291.96 114.15,292.07 114.65,292.17 115.14,292.29 115.64,292.40 116.14,292.52 116.63,292.64 117.13,292.77 117.63,292.90 118.12,293.04 118.62,293.18 119.12,293.32 119.61,293.47 120.11,293.62 120.61,293.78 121.10,293.94 121.60,294.11 122.10,294.28 122.59,294.46 123.09,294.64 123.59,294.83 124.08,295.02 124.58,295.22 125.08,295.43 125.57,295.64 126.07,295.86 126.57,296.09 127.06,296.32 127.56,296.56 128.06,296.80 128.55,297.06 129.05,297.32 129.55,297.58 130.04,297.86 130.54,298.14 131.04,298.43 131.53,298.73 132.03,299.04 132.53,299.35 133.02,299.68 133.52,300.01 134.02,300.35 134.51,300.70 135.01,301.06 135.51,301.43 136.00,301.81 136.50,302.19 137.00,302.59 137.49,303.00 137.99,303.42 138.49,303.85 138.98,304.29 139.48,304.73 139.98,305.19 140.47,305.66 140.97,306.14 141.47,306.64 141.96,307.14 142.46,307.65 142.96,308.18 143.45,308.71 143.95,309.26 144.45,309.82 144.94,310.39 145.44,310.97 145.94,311.56 146.43,312.16 146.93,312.78 147.43,313.40 147.92,314.04 148.42,314.68 148.92,315.34 149.41,316.01 149.91,316.69 150.41,317.38 150.90,318.08 151.40,318.79 151.90,319.51 152.39,320.24 152.89,320.98 153.39,321.73 153.88,322.49 154.38,323.25 154.88,324.03 155.37,324.81 155.87,325.60 156.37,326.40 156.86,327.21 157.36,328.02 157.86,328.84 158.35,329.66 158.85,330.49 159.35,331.33 159.84,332.17 160.34,333.01 160.84,333.86 161.33,334.71 161.83,335.57 162.33,336.43 162.82,337.28 163.32,338.15 163.82,339.01 164.31,339.87 164.81,340.73 165.31,341.59 165.80,342.45 166.30,343.31 166.80,344.17 167.29,345.02 167.79,345.87 168.29,346.72 168.78,347.57 169.28,348.41 169.78,349.24 170.27,350.07 170.77,350.90 171.27,351.72 171.76,352.53 172.26,353.33 172.76,354.13 173.25,354.92 173.75,355.71 174.25,356.48 174.74,357.25 175.24,358.00 175.74,358.75 176.23,359.49 176.73,360.22 177.23,360.94 177.72,361.65 178.22,362.35 178.72,363.04 179.21,363.72 179.71,364.39 180.21,365.04 180.70,365.69 181.20,366.33 181.70,366.95 182.19,367.56 182.69,368.17 183.19,368.76 183.68,369.34 184.18,369.91 184.68,370.46 185.17,371.01 185.67,371.55 186.17,372.07 186.66,372.58 187.16,373.09 187.66,373.58 188.15,374.06 188.65,374.53 189.15,374.99 189.64,375.43 190.14,375.87 190.64,376.30 191.13,376.72 191.63,377.12 192.13,377.52 192.62,377.91 193.12,378.29 193.62,378.66 194.11,379.02 194.61,379.37 195.11,379.71 195.60,380.04 196.10,380.36 196.60,380.68 197.09,380.98 197.59,381.28 198.09,381.57 198.58,381.85 199.08,382.13 199.58,382.40 200.07,382.66 200.57,382.91 201.07,383.15 201.56,383.39 202.06,383.62 202.56,383.85 203.05,384.07 203.55,384.28 204.05,384.49 204.54,384.69 205.04,384.88 205.54,385.07 206.03,385.25 206.53,385.43 207.03,385.60 207.52,385.77 208.02,385.93 208.52,386.09 209.01,386.24 209.51,386.39 210.01,386.53 210.50,386.67 211.00,386.80 211.50,386.94 211.99,387.06 212.49,387.19 212.99,387.30 213.48,387.42 213.98,387.53 214.48,387.64 214.97,387.74 215.47,387.85 215.97,387.94 216.46,388.04 216.96,388.13 217.46,388.22 217.95,388.31 218.45,388.39 218.95,388.47 219.44,388.55 219.94,388.63 220.44,388.70 220.93,388.77 221.43,388.84 221.93,388.91 222.42,388.97 222.92,389.04 223.42,389.10 223.91,389.16 224.41,389.21 224.91,389.27 225.40,389.32 225.90,389.37 226.40,389.42 226.89,389.47 227.39,389.52 227.89,389.56 228.38,389.61 228.88,389.65 229.38,389.69 229.87,389.73 230.37,389.77 230.87,389.81 231.36,389.84 231.86,389.88 232.36,389.91 232.85,389.94 233.35,389.98 233.85,390.01 234.34,390.04 234.84,390.06 235.34,390.09 235.83,390.12 236.33,390.14 236.83,390.17 237.32,390.19 237.82,390.22 238.32,390.24 238.81,390.26 239.31,390.28 239.81,390.30 240.30,390.32 240.80,390.34 241.30,390.36 241.79,390.38 242.29,390.39 242.79,390.41 243.28,390.43 243.78,390.44 244.28,390.46 244.77,390.47 245.27,390.49 245.77,390.50 246.26,390.51 246.76,390.53 247.26,390.54 247.75,390.55 248.25,390.56 248.75,390.57 249.24,390.58 249.74,390.59 250.24,390.60 250.73,390.61 251.23,390.62 251.73,390.63 252.22,390.64 252.72,390.65 253.22,390.66 253.71,390.67 254.21,390.67 254.71,390.68 255.20,390.69 255.70,390.70 256.20,390.70 256.69,390.71 257.19,390.72 257.69,390.72 258.18,390.73 258.68,390.73 259.18,390.74 259.67,390.74 260.17,390.75 260.67,390.75 261.16,390.76 261.66,390.76 262.16,390.77 262.65,390.77 263.15,390.78 263.65,390.78 264.14,390.79 264.64,390.79 265.14,390.79 265.63,390.80 266.13,390.80 266.63,390.80 267.12,390.81 267.62,390.81 268.12,390.81 268.61,390.82 269.11,390.82 269.61,390.82 270.10,390.82 270.60,390.83" fill="none" stroke="#3a3a3a" stroke-width="0.85" />
<line x1="240.80" y1="382.73" x2="240.80" y2="378.85" stroke="#000" stroke-width="1.0" />
<line x1="238.60" y1="378.85" x2="243.00" y2="378.85" stroke="#000" stroke-width="1.2" />
<circle cx="121.60" cy="290.33" r="4.1" fill="#000" stroke="none" stroke-width="0"/>
<circle cx="135.82" cy="297.48" r="4.1" fill="#000" stroke="none" stroke-width="0"/>
<circle cx="151.40" cy="331.07" r="4.1" fill="#000" stroke="none" stroke-width="0"/>
<circle cx="165.62" cy="349.75" r="4.1" fill="#000" stroke="none" stroke-width="0"/>
<circle cx="181.20" cy="372.52" r="4.1" fill="#000" stroke="none" stroke-width="0"/>
<circle cx="195.42" cy="383.75" r="4.1" fill="#000" stroke="none" stroke-width="0"/>
<circle cx="211.00" cy="388.65" r="4.1" fill="#000" stroke="none" stroke-width="0"/>
<circle cx="240.80" cy="390.90" r="4.1" fill="#000" stroke="none" stroke-width="0"/>
<rect x="117.50" y="286.44" width="8.2" height="8.2" fill="#000"/>
<rect x="131.72" y="296.44" width="8.2" height="8.2" fill="#000"/>
<rect x="147.30" y="316.96" width="8.2" height="8.2" fill="#000"/>
<rect x="161.52" y="338.00" width="8.2" height="8.2" fill="#000"/>
<rect x="177.10" y="355.56" width="8.2" height="8.2" fill="#000"/>
<rect x="206.90" y="376.08" width="8.2" height="8.2" fill="#000"/>
<rect x="236.70" y="381.90" width="8.2" height="8.2" fill="#000"/>
<polygon points="151.40,294.30 155.80,301.70 147.00,301.70" fill="#000"/>
<polygon points="181.20,313.80 185.60,321.20 176.80,321.20" fill="#000"/>
<polygon points="195.42,341.88 199.82,349.28 191.02,349.28" fill="#000"/>
<polygon points="211.00,367.81 215.40,375.21 206.60,375.21" fill="#000"/>
<polygon points="240.80,378.63 245.20,386.03 236.40,386.03" fill="#000"/>
<circle cx="151.40" cy="293.50" r="3.5999999999999996" fill="#fff" stroke="#000" stroke-width="1"/>
<circle cx="181.20" cy="331.78" r="3.5999999999999996" fill="#fff" stroke="#000" stroke-width="1"/>
<circle cx="211.00" cy="364.35" r="3.5999999999999996" fill="#fff" stroke="#000" stroke-width="1"/>
<circle cx="240.80" cy="390.90" r="3.5999999999999996" fill="#fff" stroke="#000" stroke-width="1"/>
<line x1="61.20" y1="391.50" x2="271.40" y2="391.50" stroke="#000" stroke-width="1.8" />
<line x1="62.00" y1="391.50" x2="62.00" y2="396.30" stroke="#000" stroke-width="1.2" />
<line x1="70.97" y1="391.50" x2="70.97" y2="394.70" stroke="#000" stroke-width="1.1" />
<line x1="76.22" y1="391.50" x2="76.22" y2="394.70" stroke="#000" stroke-width="1.1" />
<line x1="79.94" y1="391.50" x2="79.94" y2="394.70" stroke="#000" stroke-width="1.1" />
<line x1="82.83" y1="391.50" x2="82.83" y2="394.70" stroke="#000" stroke-width="1.1" />
<line x1="85.19" y1="391.50" x2="85.19" y2="394.70" stroke="#000" stroke-width="1.1" />
<line x1="87.18" y1="391.50" x2="87.18" y2="394.70" stroke="#000" stroke-width="1.1" />
<line x1="88.91" y1="391.50" x2="88.91" y2="394.70" stroke="#000" stroke-width="1.1" />
<line x1="90.44" y1="391.50" x2="90.44" y2="394.70" stroke="#000" stroke-width="1.1" />
<line x1="91.80" y1="391.50" x2="91.80" y2="396.30" stroke="#000" stroke-width="1.2" />
<line x1="100.77" y1="391.50" x2="100.77" y2="394.70" stroke="#000" stroke-width="1.1" />
<line x1="106.02" y1="391.50" x2="106.02" y2="394.70" stroke="#000" stroke-width="1.1" />
<line x1="109.74" y1="391.50" x2="109.74" y2="394.70" stroke="#000" stroke-width="1.1" />
<line x1="112.63" y1="391.50" x2="112.63" y2="394.70" stroke="#000" stroke-width="1.1" />
<line x1="114.99" y1="391.50" x2="114.99" y2="394.70" stroke="#000" stroke-width="1.1" />
<line x1="116.98" y1="391.50" x2="116.98" y2="394.70" stroke="#000" stroke-width="1.1" />
<line x1="118.71" y1="391.50" x2="118.71" y2="394.70" stroke="#000" stroke-width="1.1" />
<line x1="120.24" y1="391.50" x2="120.24" y2="394.70" stroke="#000" stroke-width="1.1" />
<line x1="121.60" y1="391.50" x2="121.60" y2="396.30" stroke="#000" stroke-width="1.2" />
<line x1="130.57" y1="391.50" x2="130.57" y2="394.70" stroke="#000" stroke-width="1.1" />
<line x1="135.82" y1="391.50" x2="135.82" y2="394.70" stroke="#000" stroke-width="1.1" />
<line x1="139.54" y1="391.50" x2="139.54" y2="394.70" stroke="#000" stroke-width="1.1" />
<line x1="142.43" y1="391.50" x2="142.43" y2="394.70" stroke="#000" stroke-width="1.1" />
<line x1="144.79" y1="391.50" x2="144.79" y2="394.70" stroke="#000" stroke-width="1.1" />
<line x1="146.78" y1="391.50" x2="146.78" y2="394.70" stroke="#000" stroke-width="1.1" />
<line x1="148.51" y1="391.50" x2="148.51" y2="394.70" stroke="#000" stroke-width="1.1" />
<line x1="150.04" y1="391.50" x2="150.04" y2="394.70" stroke="#000" stroke-width="1.1" />
<line x1="151.40" y1="391.50" x2="151.40" y2="396.30" stroke="#000" stroke-width="1.2" />
<line x1="160.37" y1="391.50" x2="160.37" y2="394.70" stroke="#000" stroke-width="1.1" />
<line x1="165.62" y1="391.50" x2="165.62" y2="394.70" stroke="#000" stroke-width="1.1" />
<line x1="169.34" y1="391.50" x2="169.34" y2="394.70" stroke="#000" stroke-width="1.1" />
<line x1="172.23" y1="391.50" x2="172.23" y2="394.70" stroke="#000" stroke-width="1.1" />
<line x1="174.59" y1="391.50" x2="174.59" y2="394.70" stroke="#000" stroke-width="1.1" />
<line x1="176.58" y1="391.50" x2="176.58" y2="394.70" stroke="#000" stroke-width="1.1" />
<line x1="178.31" y1="391.50" x2="178.31" y2="394.70" stroke="#000" stroke-width="1.1" />
<line x1="179.84" y1="391.50" x2="179.84" y2="394.70" stroke="#000" stroke-width="1.1" />
<line x1="181.20" y1="391.50" x2="181.20" y2="396.30" stroke="#000" stroke-width="1.2" />
<line x1="190.17" y1="391.50" x2="190.17" y2="394.70" stroke="#000" stroke-width="1.1" />
<line x1="195.42" y1="391.50" x2="195.42" y2="394.70" stroke="#000" stroke-width="1.1" />
<line x1="199.14" y1="391.50" x2="199.14" y2="394.70" stroke="#000" stroke-width="1.1" />
<line x1="202.03" y1="391.50" x2="202.03" y2="394.70" stroke="#000" stroke-width="1.1" />
<line x1="204.39" y1="391.50" x2="204.39" y2="394.70" stroke="#000" stroke-width="1.1" />
<line x1="206.38" y1="391.50" x2="206.38" y2="394.70" stroke="#000" stroke-width="1.1" />
<line x1="208.11" y1="391.50" x2="208.11" y2="394.70" stroke="#000" stroke-width="1.1" />
<line x1="209.64" y1="391.50" x2="209.64" y2="394.70" stroke="#000" stroke-width="1.1" />
<line x1="211.00" y1="391.50" x2="211.00" y2="396.30" stroke="#000" stroke-width="1.2" />
<line x1="219.97" y1="391.50" x2="219.97" y2="394.70" stroke="#000" stroke-width="1.1" />
<line x1="225.22" y1="391.50" x2="225.22" y2="394.70" stroke="#000" stroke-width="1.1" />
<line x1="228.94" y1="391.50" x2="228.94" y2="394.70" stroke="#000" stroke-width="1.1" />
<line x1="231.83" y1="391.50" x2="231.83" y2="394.70" stroke="#000" stroke-width="1.1" />
<line x1="234.19" y1="391.50" x2="234.19" y2="394.70" stroke="#000" stroke-width="1.1" />
<line x1="236.18" y1="391.50" x2="236.18" y2="394.70" stroke="#000" stroke-width="1.1" />
<line x1="237.91" y1="391.50" x2="237.91" y2="394.70" stroke="#000" stroke-width="1.1" />
<line x1="239.44" y1="391.50" x2="239.44" y2="394.70" stroke="#000" stroke-width="1.1" />
<line x1="240.80" y1="391.50" x2="240.80" y2="396.30" stroke="#000" stroke-width="1.2" />
<line x1="249.77" y1="391.50" x2="249.77" y2="394.70" stroke="#000" stroke-width="1.1" />
<line x1="255.02" y1="391.50" x2="255.02" y2="394.70" stroke="#000" stroke-width="1.1" />
<line x1="258.74" y1="391.50" x2="258.74" y2="394.70" stroke="#000" stroke-width="1.1" />
<line x1="261.63" y1="391.50" x2="261.63" y2="394.70" stroke="#000" stroke-width="1.1" />
<line x1="263.99" y1="391.50" x2="263.99" y2="394.70" stroke="#000" stroke-width="1.1" />
<line x1="265.98" y1="391.50" x2="265.98" y2="394.70" stroke="#000" stroke-width="1.1" />
<line x1="267.71" y1="391.50" x2="267.71" y2="394.70" stroke="#000" stroke-width="1.1" />
<line x1="269.24" y1="391.50" x2="269.24" y2="394.70" stroke="#000" stroke-width="1.1" />
<line x1="270.60" y1="391.50" x2="270.60" y2="396.30" stroke="#000" stroke-width="1.2" />
<line x1="170.80" y1="254.30" x2="196.70" y2="254.30" stroke="#444" stroke-width="0.9" />
<circle cx="184.20" cy="254.30" r="3.9000000000000004" fill="#fff" stroke="#000" stroke-width="1"/>
<text x="201.40" y="258.80" font-size="10.6" text-anchor="start" font-weight="normal" >AJG049 (V<tspan font-size="7" dy="2">h</tspan><tspan dy="-2"> = -90 mV)</tspan></text>
<line x1="170.80" y1="267.60" x2="196.70" y2="267.60" stroke="#444" stroke-width="0.9" />
<circle cx="184.20" cy="267.60" r="4.4" fill="#000" stroke="none" stroke-width="0"/>
<text x="201.40" y="272.10" font-size="10.6" text-anchor="start" font-weight="normal" >AJG049 (V<tspan font-size="7" dy="2">h</tspan><tspan dy="-2"> = -60 mV)</tspan></text>
<line x1="170.80" y1="280.90" x2="196.70" y2="280.90" stroke="#444" stroke-width="0.9" />
<rect x="179.80" y="276.50" width="8.8" height="8.8" fill="#000"/>
<text x="201.40" y="285.40" font-size="10.6" text-anchor="start" font-weight="normal" >Verapamil (V<tspan font-size="7" dy="2">h</tspan><tspan dy="-2"> = -60 mV)</tspan></text>
<line x1="170.80" y1="294.20" x2="196.70" y2="294.20" stroke="#444" stroke-width="0.9" />
<polygon points="184.20,289.80 188.90,297.80 179.50,297.80" fill="#000"/>
<text x="201.40" y="298.70" font-size="10.6" text-anchor="start" font-weight="normal" >Diltiazem (V<tspan font-size="7" dy="2">h</tspan><tspan dy="-2"> = -60 mV)</tspan></text>
<text x="340.50" y="13.30" font-size="12" text-anchor="start" font-weight="bold" >d</text>
<line x1="346.56" y1="52.00" x2="563.64" y2="52.00" stroke="#000" stroke-width="1.8" />
<line x1="347.36" y1="52.00" x2="347.36" y2="46.30" stroke="#000" stroke-width="1.5" />
<line x1="365.32" y1="52.00" x2="365.32" y2="46.30" stroke="#000" stroke-width="1.5" />
<line x1="383.27" y1="52.00" x2="383.27" y2="46.30" stroke="#000" stroke-width="1.5" />
<line x1="401.23" y1="52.00" x2="401.23" y2="46.30" stroke="#000" stroke-width="1.5" />
<line x1="419.19" y1="52.00" x2="419.19" y2="46.30" stroke="#000" stroke-width="1.5" />
<line x1="437.15" y1="52.00" x2="437.15" y2="46.30" stroke="#000" stroke-width="1.5" />
<line x1="455.10" y1="52.00" x2="455.10" y2="46.30" stroke="#000" stroke-width="1.5" />
<line x1="473.06" y1="52.00" x2="473.06" y2="46.30" stroke="#000" stroke-width="1.5" />
<line x1="491.02" y1="52.00" x2="491.02" y2="46.30" stroke="#000" stroke-width="1.5" />
<line x1="508.97" y1="52.00" x2="508.97" y2="46.30" stroke="#000" stroke-width="1.5" />
<line x1="526.93" y1="52.00" x2="526.93" y2="46.30" stroke="#000" stroke-width="1.5" />
<line x1="544.89" y1="52.00" x2="544.89" y2="46.30" stroke="#000" stroke-width="1.5" />
<line x1="562.85" y1="52.00" x2="562.85" y2="46.30" stroke="#000" stroke-width="1.5" />
<text x="363.70" y="43.80" font-size="10.3" text-anchor="middle" font-weight="normal" >-60</text>
<text x="398.60" y="43.80" font-size="10.3" text-anchor="middle" font-weight="normal" >-40</text>
<text x="435.60" y="43.80" font-size="10.3" text-anchor="middle" font-weight="normal" >-20</text>
<text x="509.20" y="43.80" font-size="10.3" text-anchor="middle" font-weight="normal" >20</text>
<text x="545.20" y="43.80" font-size="10.3" text-anchor="middle" font-weight="normal" >40</text>
<text x="556.00" y="44.20" font-size="10.3" text-anchor="start" font-weight="normal" >(mV)</text>
<line x1="473.60" y1="32.29" x2="473.60" y2="204.08" stroke="#000" stroke-width="1.8" />
<line x1="473.60" y1="33.09" x2="478.40" y2="33.09" stroke="#000" stroke-width="1.5" />
<line x1="473.60" y1="70.91" x2="478.40" y2="70.91" stroke="#000" stroke-width="1.5" />
<line x1="473.60" y1="89.82" x2="478.40" y2="89.82" stroke="#000" stroke-width="1.5" />
<line x1="473.60" y1="108.73" x2="478.40" y2="108.73" stroke="#000" stroke-width="1.5" />
<line x1="473.60" y1="127.64" x2="478.40" y2="127.64" stroke="#000" stroke-width="1.5" />
<line x1="473.60" y1="146.55" x2="478.40" y2="146.55" stroke="#000" stroke-width="1.5" />
<line x1="473.60" y1="165.46" x2="478.40" y2="165.46" stroke="#000" stroke-width="1.5" />
<line x1="473.60" y1="184.37" x2="478.40" y2="184.37" stroke="#000" stroke-width="1.5" />
<line x1="473.60" y1="203.28" x2="478.40" y2="203.28" stroke="#000" stroke-width="1.5" />
<text x="464.00" y="63.40" font-size="10.3" text-anchor="start" font-weight="normal" >0</text>
<text x="480.80" y="92.60" font-size="10.3" text-anchor="start" font-weight="normal" >-20</text>
<text x="481.20" y="134.80" font-size="10.3" text-anchor="start" font-weight="normal" >-40</text>
<text x="481.40" y="206.40" font-size="10.3" text-anchor="start" font-weight="normal" >-80</text>
<text x="474.80" y="25.60" font-size="10.3" text-anchor="start" font-weight="normal" >(pA)</text>
<polyline points="365.32,53.60 383.27,53.60 401.23,56.90 419.19,74.90 437.15,91.40 455.10,126.80 473.06,160.20 491.02,160.50 508.97,146.80 526.93,123.20 544.89,100.00" fill="none" stroke="#000" stroke-width="0.9" />
<polyline points="365.32,53.60 383.27,53.60 401.23,56.90 419.19,71.10 437.15,83.60 455.10,111.20 473.06,127.00 491.02,119.50 508.97,96.30 526.93,84.50 544.89,70.50" fill="none" stroke="#000" stroke-width="0.9" />
<circle cx="365.32" cy="53.60" r="4.8" fill="#fff" stroke="#000" stroke-width="1.1"/>
<circle cx="383.27" cy="53.60" r="4.8" fill="#fff" stroke="#000" stroke-width="1.1"/>
<circle cx="401.23" cy="56.90" r="4.8" fill="#fff" stroke="#000" stroke-width="1.1"/>
<circle cx="419.19" cy="74.90" r="4.8" fill="#fff" stroke="#000" stroke-width="1.1"/>
<circle cx="437.15" cy="91.40" r="4.8" fill="#fff" stroke="#000" stroke-width="1.1"/>
<circle cx="455.10" cy="126.80" r="4.8" fill="#fff" stroke="#000" stroke-width="1.1"/>
<circle cx="473.06" cy="160.20" r="4.8" fill="#fff" stroke="#000" stroke-width="1.1"/>
<circle cx="491.02" cy="160.50" r="4.8" fill="#fff" stroke="#000" stroke-width="1.1"/>
<circle cx="508.97" cy="146.80" r="4.8" fill="#fff" stroke="#000" stroke-width="1.1"/>
<circle cx="526.93" cy="123.20" r="4.8" fill="#fff" stroke="#000" stroke-width="1.1"/>
<circle cx="544.89" cy="100.00" r="4.8" fill="#fff" stroke="#000" stroke-width="1.1"/>
<circle cx="365.32" cy="53.60" r="5.3" fill="#000" stroke="none" stroke-width="0"/>
<circle cx="383.27" cy="53.60" r="5.3" fill="#000" stroke="none" stroke-width="0"/>
<circle cx="401.23" cy="56.90" r="5.3" fill="#000" stroke="none" stroke-width="0"/>
<circle cx="419.19" cy="71.10" r="5.3" fill="#000" stroke="none" stroke-width="0"/>
<circle cx="437.15" cy="83.60" r="5.3" fill="#000" stroke="none" stroke-width="0"/>
<circle cx="455.10" cy="111.20" r="5.3" fill="#000" stroke="none" stroke-width="0"/>
<circle cx="473.06" cy="127.00" r="5.3" fill="#000" stroke="none" stroke-width="0"/>
<circle cx="491.02" cy="119.50" r="5.3" fill="#000" stroke="none" stroke-width="0"/>
<circle cx="508.97" cy="96.30" r="5.3" fill="#000" stroke="none" stroke-width="0"/>
<circle cx="526.93" cy="84.50" r="5.3" fill="#000" stroke="none" stroke-width="0"/>
<circle cx="544.89" cy="70.50" r="5.3" fill="#000" stroke="none" stroke-width="0"/>
<line x1="359.60" y1="166.60" x2="384.90" y2="166.60" stroke="#000" stroke-width="0.9" />
<circle cx="372.20" cy="166.60" r="4.8" fill="#fff" stroke="#000" stroke-width="1.1"/>
<line x1="359.60" y1="181.10" x2="384.90" y2="181.10" stroke="#000" stroke-width="0.9" />
<circle cx="372.20" cy="181.10" r="5.3" fill="#000" stroke="none" stroke-width="0"/>
<text x="390.20" y="170.80" font-size="10.3" text-anchor="start" font-weight="normal" >Control</text>
<text x="390.20" y="185.20" font-size="10.45" text-anchor="start" font-weight="normal" >AJG049 100 nM</text>
<text x="335.80" y="265.00" font-size="13" text-anchor="start" font-weight="bold" >e</text>
<line x1="373.70" y1="266.00" x2="373.70" y2="390.90" stroke="#000" stroke-width="1.6" />
<line x1="368.30" y1="390.10" x2="373.70" y2="390.10" stroke="#000" stroke-width="1.5" />
<text x="364.90" y="393.50" font-size="10.3" text-anchor="end" font-weight="normal" >0</text>
<line x1="368.30" y1="365.32" x2="373.70" y2="365.32" stroke="#000" stroke-width="1.5" />
<text x="364.90" y="368.72" font-size="10.3" text-anchor="end" font-weight="normal" >0.2</text>
<line x1="368.30" y1="340.54" x2="373.70" y2="340.54" stroke="#000" stroke-width="1.5" />
<text x="364.90" y="343.94" font-size="10.3" text-anchor="end" font-weight="normal" >0.4</text>
<line x1="368.30" y1="315.76" x2="373.70" y2="315.76" stroke="#000" stroke-width="1.5" />
<text x="364.90" y="319.16" font-size="10.3" text-anchor="end" font-weight="normal" >0.6</text>
<line x1="368.30" y1="290.98" x2="373.70" y2="290.98" stroke="#000" stroke-width="1.5" />
<text x="364.90" y="294.38" font-size="10.3" text-anchor="end" font-weight="normal" >0.8</text>
<line x1="368.30" y1="266.20" x2="373.70" y2="266.20" stroke="#000" stroke-width="1.5" />
<text x="364.90" y="269.60" font-size="10.3" text-anchor="end" font-weight="normal" >1</text>
<text x="344.40" y="327.50" font-size="10.3" text-anchor="middle" font-weight="normal" transform="rotate(-90 344.4 327.5)">Relative amplitude</text>
<line x1="381.40" y1="389.60" x2="601.80" y2="389.60" stroke="#000" stroke-width="1.6" />
<line x1="382.20" y1="389.60" x2="382.20" y2="394.60" stroke="#000" stroke-width="1.5" />
<text x="383.80" y="408.00" font-size="10.3" text-anchor="middle" font-weight="normal" >-40</text>
<line x1="409.55" y1="389.60" x2="409.55" y2="394.60" stroke="#000" stroke-width="1.5" />
<text x="411.15" y="408.00" font-size="10.3" text-anchor="middle" font-weight="normal" >-30</text>
<line x1="436.90" y1="389.60" x2="436.90" y2="394.60" stroke="#000" stroke-width="1.5" />
<text x="438.50" y="408.00" font-size="10.3" text-anchor="middle" font-weight="normal" >-20</text>
<line x1="464.25" y1="389.60" x2="464.25" y2="394.60" stroke="#000" stroke-width="1.5" />
<text x="465.85" y="408.00" font-size="10.3" text-anchor="middle" font-weight="normal" >-10</text>
<line x1="491.60" y1="389.60" x2="491.60" y2="394.60" stroke="#000" stroke-width="1.5" />
<text x="492.30" y="408.00" font-size="10.3" text-anchor="middle" font-weight="normal" >0</text>
<line x1="518.95" y1="389.60" x2="518.95" y2="394.60" stroke="#000" stroke-width="1.5" />
<text x="519.65" y="408.00" font-size="10.3" text-anchor="middle" font-weight="normal" >10</text>
<line x1="546.30" y1="389.60" x2="546.30" y2="394.60" stroke="#000" stroke-width="1.5" />
<text x="547.00" y="408.00" font-size="10.3" text-anchor="middle" font-weight="normal" >20</text>
<line x1="573.65" y1="389.60" x2="573.65" y2="394.60" stroke="#000" stroke-width="1.5" />
<text x="574.35" y="408.00" font-size="10.3" text-anchor="middle" font-weight="normal" >30</text>
<line x1="601.00" y1="389.60" x2="601.00" y2="394.60" stroke="#000" stroke-width="1.5" />
<text x="601.70" y="408.00" font-size="10.3" text-anchor="middle" font-weight="normal" >40</text>
<text x="432.60" y="421.00" font-size="10.3" text-anchor="start" font-weight="normal" >Membrane potentials (mV)</text>
<line x1="382.50" y1="278.40" x2="600.80" y2="340.10" stroke="#444" stroke-width="0.95" />
<circle cx="409.35" cy="288.60" r="4.1" fill="#fff" stroke="#444" stroke-width="1.05"/>
<circle cx="436.70" cy="291.10" r="4.1" fill="#fff" stroke="#444" stroke-width="1.05"/>
<circle cx="464.05" cy="300.90" r="4.1" fill="#fff" stroke="#444" stroke-width="1.05"/>
<circle cx="491.40" cy="311.10" r="4.1" fill="#fff" stroke="#444" stroke-width="1.05"/>
<line x1="518.75" y1="311.60" x2="518.75" y2="321.00" stroke="#333" stroke-width="1.0" />
<line x1="514.95" y1="311.60" x2="522.55" y2="311.60" stroke="#333" stroke-width="1.1" />
<line x1="514.95" y1="321.00" x2="522.55" y2="321.00" stroke="#333" stroke-width="1.1" />
<circle cx="518.75" cy="316.60" r="4.1" fill="#fff" stroke="#444" stroke-width="1.05"/>
<line x1="546.10" y1="323.70" x2="546.10" y2="332.60" stroke="#333" stroke-width="1.0" />
<line x1="542.30" y1="323.70" x2="549.90" y2="323.70" stroke="#333" stroke-width="1.1" />
<line x1="542.30" y1="332.60" x2="549.90" y2="332.60" stroke="#333" stroke-width="1.1" />
<circle cx="546.10" cy="328.30" r="4.1" fill="#fff" stroke="#444" stroke-width="1.05"/>
<circle cx="573.45" cy="331.60" r="4.1" fill="#fff" stroke="#444" stroke-width="1.05"/>
<line x1="497.00" y1="276.40" x2="514.90" y2="276.40" stroke="#444" stroke-width="0.95" />
<circle cx="505.90" cy="276.40" r="4.1" fill="#fff" stroke="#444" stroke-width="1.05"/>
<text x="522.00" y="280.60" font-size="10.3" text-anchor="start" font-weight="normal" >Relative value</text>
</svg></body></html>
